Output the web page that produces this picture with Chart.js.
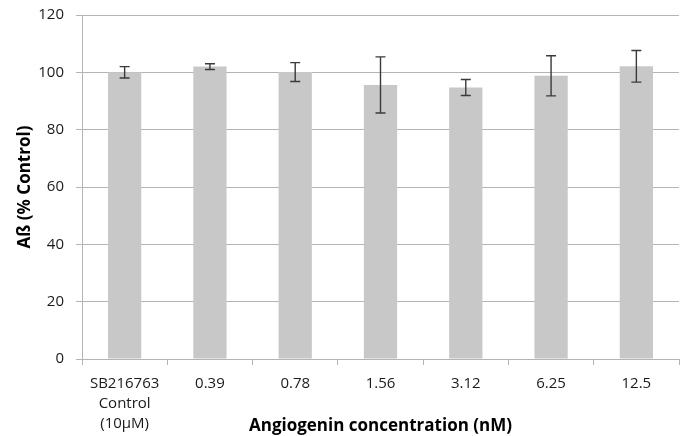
<!DOCTYPE html>
<html>
<head>
<meta charset="utf-8">
<script src="https://cdn.jsdelivr.net/npm/chart.js@4.4.1/dist/chart.umd.min.js"></script>
<style>
  html, body { margin: 0; padding: 0; background: #ffffff; }
  #wrap { width: 686px; height: 436px; position: relative; }
</style>
</head>
<body>
<div id="wrap"><canvas id="c" width="686" height="436"></canvas></div>
<script>
const categories = [["SB216763", "Control", "(10µM)"], "0.39", "0.78", "1.56", "3.12", "6.25", "12.5"];
const values = [100.0, 102.0, 100.1, 95.6, 94.7, 98.8, 102.1];
const errors = [2.0, 1.0, 3.3, 9.8, 2.8, 7.0, 5.5];
const yTicks = [0, 20, 40, 60, 80, 100, 120];

const FONT = "'Open Sans', 'DejaVu Sans', sans-serif";

const errorBarPlugin = {
  id: 'errorBars',
  afterDatasetsDraw(chart) {
    const ctx = chart.ctx;
    const meta = chart.getDatasetMeta(0);
    const yScale = chart.scales.y;
    ctx.save();
    ctx.strokeStyle = '#3a3a3a';
    ctx.lineWidth = 1.4;
    meta.data.forEach((bar, i) => {
      const x = bar.x;
      const yTop = yScale.getPixelForValue(values[i] + errors[i]);
      const yBot = yScale.getPixelForValue(values[i] - errors[i]);
      const cap = 5;
      ctx.beginPath();
      ctx.moveTo(x, yTop); ctx.lineTo(x, yBot);
      ctx.moveTo(x - cap, yTop); ctx.lineTo(x + cap, yTop);
      ctx.moveTo(x - cap, yBot); ctx.lineTo(x + cap, yBot);
      ctx.stroke();
    });
    ctx.restore();
  }
};

new Chart(document.getElementById('c'), {
  type: 'bar',
  data: {
    labels: categories,
    datasets: [{
      data: values,
      backgroundColor: '#c8c8c8',
      borderWidth: 0,
      barPercentage: 0.39,
      categoryPercentage: 1.0
    }]
  },
  options: {
    responsive: false,
    animation: false,
    devicePixelRatio: 1,
    layout: { padding: { top: 15, right: 7, left: 0, bottom: 0 } },
    plugins: {
      legend: { display: false },
      tooltip: { enabled: false }
    },
    scales: {
      x: {
        grid: {
          offset: true,
          drawOnChartArea: false,
          drawTicks: true,
          tickLength: 6,
          color: '#b4b4b4'
        },
        border: { color: '#b4b4b4', width: 1 },
        ticks: {
          color: '#1a1a1a',
          font: { family: FONT, size: 15, lineHeight: 1.33 },
          padding: 9,
          maxRotation: 0,
          autoSkip: false
        },
        title: {
          display: true,
          text: 'Angiogenin concentration (nM)',
          color: '#000000',
          font: { family: FONT, size: 17, weight: 'bold', lineHeight: 1.2 },
          padding: { top: 0, bottom: 0 }
        },
        afterFit(scale) { scale.height = 77; scale.paddingLeft = 0; scale.paddingRight = 0; }
      },
      y: {
        min: 0,
        max: 120,
        afterBuildTicks(scale) { scale.ticks = yTicks.map(v => ({ value: v })); },
        grid: {
          color: '#b4b4b4',
          lineWidth: 1,
          tickLength: 6
        },
        border: { color: '#b4b4b4', width: 1 },
        ticks: {
          color: '#1a1a1a',
          font: { family: FONT, size: 15 },
          padding: 12
        },
        title: {
          display: true,
          text: 'Aß (% Control)',
          color: '#000000',
          font: { family: FONT, size: 17, weight: 'bold', lineHeight: 1.2 },
          padding: { top: 15, bottom: 0 }
        },
        afterFit(scale) { scale.width = 82; scale.paddingTop = 0; scale.paddingBottom = 0; }
      }
    }
  },
  plugins: [errorBarPlugin]
});
</script>
</body>
</html>
